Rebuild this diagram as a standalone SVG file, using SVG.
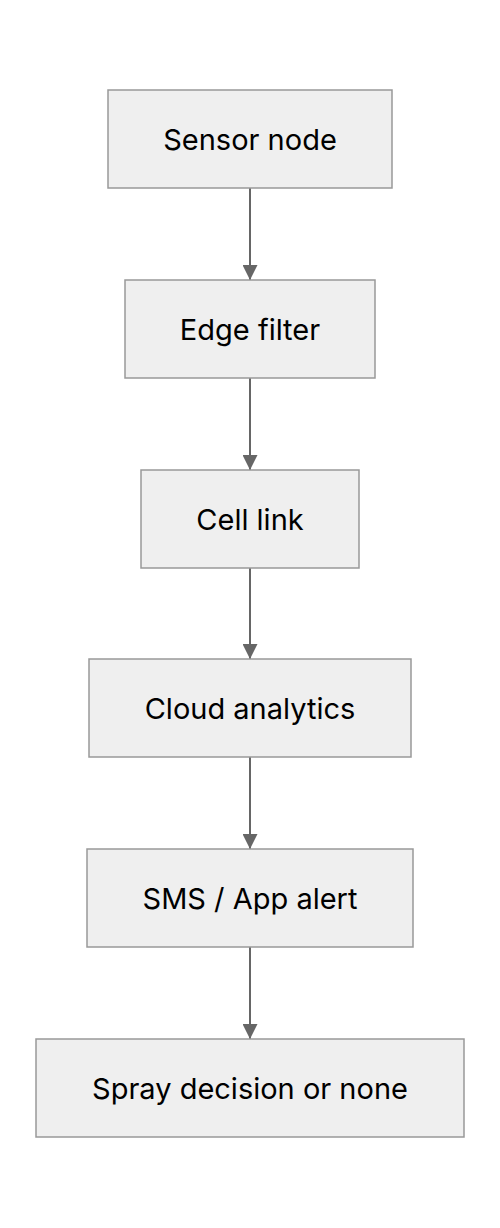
<svg xmlns="http://www.w3.org/2000/svg" width="500" height="1228" viewBox="0 0 500 1228">
<defs>
<marker id="arr" markerWidth="15" markerHeight="15" refX="15" refY="7.5" orient="auto" markerUnits="userSpaceOnUse">
<path d="M0,0 L15,7.5 L0,15 Z" fill="#666"/>
</marker>
<style>
.box{fill:#efefef;stroke:#999;stroke-width:1.5}
.lbl{font-family:Inter,"Liberation Sans",sans-serif;font-size:29px;fill:#000;text-anchor:middle}
.edge{stroke:#666;stroke-width:2;fill:none}
</style>
</defs>
<rect width="500" height="1228" fill="#fff"/>
<g id="connectors">
<line class="edge" x1="250" y1="188" x2="250" y2="280" marker-end="url(#arr)"/>
<line class="edge" x1="250" y1="378" x2="250" y2="470" marker-end="url(#arr)"/>
<line class="edge" x1="250" y1="568" x2="250" y2="659" marker-end="url(#arr)"/>
<line class="edge" x1="250" y1="757" x2="250" y2="849" marker-end="url(#arr)"/>
<line class="edge" x1="250" y1="947" x2="250" y2="1039" marker-end="url(#arr)"/>
</g>
<g id="sensor"><rect class="box" x="108" y="90" width="284" height="98"/><text class="lbl" x="250" y="149.5">Sensor node</text></g>
<g id="edgefilter"><rect class="box" x="125" y="280" width="250" height="98"/><text class="lbl" x="250" y="339.5">Edge filter</text></g>
<g id="celllink"><rect class="box" x="141" y="470" width="218" height="98"/><text class="lbl" x="250" y="529.5">Cell link</text></g>
<g id="cloud"><rect class="box" x="89" y="659" width="322" height="98"/><text class="lbl" x="250" y="718.5">Cloud analytics</text></g>
<g id="alert"><rect class="box" x="87" y="849" width="326" height="98"/><text class="lbl" x="250" y="908.5">SMS / App alert</text></g>
<g id="spray"><rect class="box" x="36" y="1039" width="428" height="98"/><text class="lbl" x="250" y="1098.5">Spray decision or none</text></g>
</svg>
